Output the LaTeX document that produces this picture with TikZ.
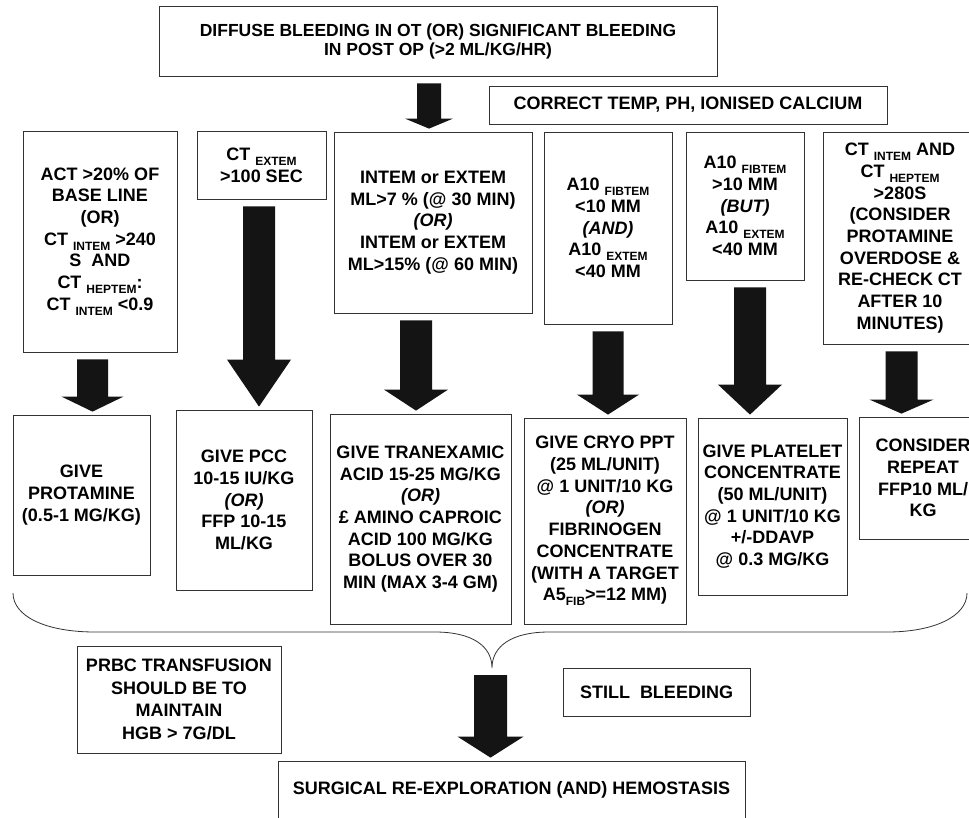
\documentclass[tikz,border=0pt]{standalone}
\usepackage{fontspec}
\setmainfont{Liberation Sans}
\usepackage{tikz}
\usetikzlibrary{calc}
\newcommand{\lowsub}[1]{\raisebox{-5pt}{\fontsize{12}{12}\selectfont #1}}
\newcommand{\bigarrow}[5][20]{%
  % #1 = head length, #2 = from, #3 = to, #4 = x offset, #5 = half shaft width
  \fill[black!92] let \p1 = ($(#2.-90)+(#4,7)$), \p2 = ($(#3.90)+(0,-3)$) in
    (\x1-#5pt,\y1) -- (\x1+#5pt,\y1) -- (\x1+#5pt,\y2+#1pt) -- (\x1+2*#5pt,\y2+#1pt)
    -- (\x1,\y2) -- (\x1-2*#5pt,\y2+#1pt) -- (\x1-#5pt,\y2+#1pt) -- cycle;
}
\begin{document}
\begin{tikzpicture}[x=1pt, y=-1pt,
  box/.style={draw=black!80, line width=0.8pt, align=center, inner sep=1pt,
    font=\bfseries\fontsize{18}{21.7}\selectfont}]
  \useasboundingbox (0,0) rectangle (969,817);
  \clip (0,0) rectangle (969,817);
  \fill[white] (0,0) rectangle (969,817);

  \node[box, minimum width=558pt, minimum height=70pt, font=\bfseries\fontsize{17.5}{19}\selectfont] (top) at (438,41)
    {DIFFUSE BLEEDING IN OT (OR) SIGNIFICANT BLEEDING\\IN POST OP (>2 ML/KG/HR)};
  \node[box, minimum width=398pt, minimum height=38pt] (temp) at (688,105) {CORRECT TEMP, PH, IONISED CALCIUM};

  % tests
  \node[box, minimum width=154pt, minimum height=221pt] (act) at (100,241.5)
    {ACT >20\% OF\\BASE LINE\\(OR)\\CT \lowsub{INTEM} >240\\S\hspace{10pt}AND\\CT \lowsub{HEPTEM}:\\CT \lowsub{INTEM} <0.9};
  \node[box, minimum width=129pt, minimum height=68pt] (ctex) at (261.5,165) {CT \lowsub{EXTEM}\\>100 SEC};
  \node[box, minimum width=198pt, minimum height=181pt] (intem) at (433,222.5)
    {INTEM or EXTEM\\ML>7 \% (@ 30 MIN)\\\textit{(OR)}\\INTEM or EXTEM\\ML>15\% (@ 60 MIN)};
  \node[box, minimum width=128pt, minimum height=192pt] (a10and) at (608,228)
    {A10 \lowsub{FIBTEM}\\<10 MM\\\textit{(AND)}\\A10 \lowsub{EXTEM}\\<40 MM};
  \node[box, minimum width=118pt, minimum height=148pt] (a10but) at (745,206)
    {A10 \lowsub{FIBTEM}\\>10 MM\\\textit{(BUT)}\\A10 \lowsub{EXTEM}\\<40 MM};
  \node[box, minimum width=154pt, minimum height=212pt] (ctin) at (900,238)
    {CT \lowsub{INTEM} AND\\CT \lowsub{HEPTEM}\\>280S\\(CONSIDER\\PROTAMINE\\OVERDOSE \&\\RE-CHECK CT\\AFTER 10\\MINUTES)};

  % treatment
  \node[box, minimum width=137pt, minimum height=160pt] (prot) at (81.5,495) {GIVE\\PROTAMINE\\(0.5-1 MG/KG)};
  \node[box, minimum width=136pt, minimum height=180pt] (pcc) at (244,500)
    {GIVE PCC\\10-15 IU/KG\\\textit{(OR)}\\FFP 10-15\\ML/KG};
  \node[box, minimum width=181pt, minimum height=210pt] (tran) at (420.5,519)
    {GIVE TRANEXAMIC\\ACID 15-25 MG/KG\\\textit{(OR)}\\£ AMINO CAPROIC\\ACID 100 MG/KG\\BOLUS OVER 30\\MIN (MAX 3-4 GM)};
  \node[box, minimum width=162pt, minimum height=206pt] (cryo) at (605,521)
    {GIVE CRYO PPT\\(25 ML/UNIT)\\@ 1 UNIT/10 KG\\\textit{(OR)}\\FIBRINOGEN\\CONCENTRATE\\(WITH A TARGET\\A5\lowsub{FIB}>=12 MM)};
  \node[box, minimum width=149pt, minimum height=177pt] (plat) at (772.5,506.5)
    {GIVE PLATELET\\CONCENTRATE\\(50 ML/UNIT)\\@ 1 UNIT/10 KG\\+/-DDAVP\\@ 0.3 MG/KG};
  \node[box, minimum width=128pt, minimum height=122pt] (cons) at (923,478) {CONSIDER\\REPEAT\\FFP10 ML/\\KG};

  % bottom
  \node[box, minimum width=204pt, minimum height=107pt, font=\bfseries\fontsize{18}{22.7}\selectfont] (prbc) at (179,699.5)
    {PRBC TRANSFUSION\\SHOULD BE TO\\MAINTAIN\\HGB > 7G/DL};
  \node[box, minimum width=187pt, minimum height=48pt] (still) at (656.5,692) {STILL\ \ BLEEDING};
  \node[box, minimum width=467pt, minimum height=58pt] (surg) at (511.5,790) {SURGICAL RE-EXPLORATION (AND) HEMOSTASIS};

  \draw[black!80, line width=0.8pt] (13,593) .. controls (13,616) and (45,632) .. (95,632) -- (435,632)
    .. controls (472,632) and (492,646) .. (492,668)
    .. controls (492,646) and (512,632) .. (549,632) -- (887,632)
    .. controls (935,632) and (967,616) .. (967,593);
  \coordinate (bracetip) at (492,668);

  \bigarrow[10]{top}{intem}{-9}{12}
  \bigarrow[15]{act}{prot}{-7.5}{15.5}
  \bigarrow[47]{ctex}{pcc}{-2.5}{16}
  \bigarrow[21]{intem}{tran}{-17}{16}
  \bigarrow[20]{a10and}{cryo}{0}{15.5}
  \bigarrow[30]{a10but}{plat}{5}{16}
  \bigarrow[14]{ctin}{cons}{1.5}{16}
  \bigarrow[21]{bracetip}{surg}{-1.5}{16.5}
\end{tikzpicture}
\end{document}
